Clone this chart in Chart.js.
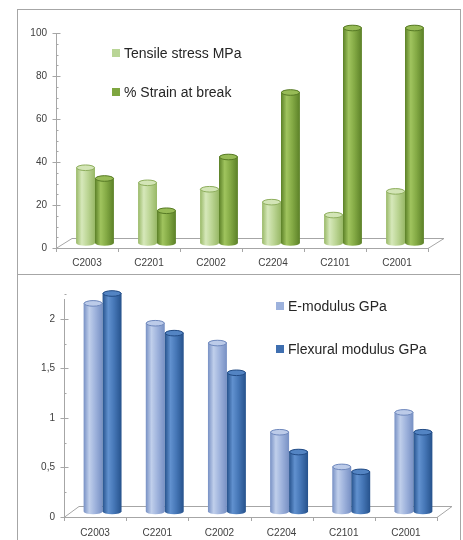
<!DOCTYPE html>
<html lang="en">
<head>
    <meta charset="UTF-8">
    <title>Tensile and modulus comparison</title>
    <script src="https://cdn.jsdelivr.net/npm/chart.js@4.4.0/dist/chart.umd.min.js"></script>
    <style>
        body {
            margin: 0;
            background-color: #ffffff;
            font-family: "Liberation Sans", Arial, sans-serif;
        }
        #frame {
            position: absolute;
            left: 17px;
            top: 9px;
            width: 442px;
            height: 540px;
            border-top: 1px solid #a6a6a6;
            border-left: 1px solid #a6a6a6;
            border-right: 1px solid #a6a6a6;
        }
        #divider {
            position: absolute;
            left: 17px;
            top: 274px;
            width: 444px;
            height: 1px;
            background-color: #a6a6a6;
        }
        canvas {
            position: absolute;
            left: 17px;
        }
        .legend {
            position: absolute;
            font-size: 14px;
            color: #262626;
        }
        .legend div {
            position: absolute;
            white-space: nowrap;
            line-height: 16px;
        }
        .legend span {
            display: inline-block;
            width: 8px;
            height: 8px;
            margin-right: 4px;
            vertical-align: 1px;
        }
    </style>
</head>
<body>
    <div id="frame"></div>
    <div id="divider"></div>
    <canvas id="strengthChart" width="443" height="265" style="top: 9px;"></canvas>
    <canvas id="modulusChart" width="443" height="266" style="top: 274px;"></canvas>
    <div id="strengthLegend" class="legend"></div>
    <div id="modulusLegend" class="legend"></div>

    <script>
        // Data
        const categories = ['C2003', 'C2201', 'C2002', 'C2204', 'C2101', 'C2001'];
        const tensileStress = [35, 28, 25, 19, 13, 24];
        const strainAtBreak = [30, 15, 40, 70, 100, 100];
        const eModulus = [2.1, 1.9, 1.7, 0.8, 0.45, 1.0];
        const flexuralModulus = [2.2, 1.8, 1.4, 0.6, 0.4, 0.8];

        const fontFamily = '"Liberation Sans", Arial, sans-serif';
        const axisColor = '#a6a6a6';

        // Cylinder shading: edge, highlight, body, cap, rim
        const shades = {
            tensile: ['#98b866', '#d6e8ba', '#bdd696', '#d3e5b6', '#8eae5e'],
            strain: ['#5b8027', '#a0c45e', '#84aa45', '#97bb56', '#577a25'],
            emod: ['#7790c4', '#c0cfeb', '#a0b4dd', '#bccbe9', '#6f88bc'],
            flex: ['#26528c', '#6191cf', '#4677b7', '#5384c3', '#234c85']
        };

        // Draws floor, axis ticks and 3D cylinders in place of the flat bars
        const cylinderPlugin = {
            id: 'cylinders',
            beforeDatasetsDraw(chart, args, opts) {
                const ctx = chart.ctx;
                const ca = chart.chartArea;
                const xs = chart.scales.x;
                const ys = chart.scales.y;
                const d = opts.depth;

                ctx.save();
                ctx.strokeStyle = axisColor;
                ctx.lineWidth = 1;

                // floor
                ctx.beginPath();
                ctx.moveTo(ca.left, ca.bottom + 0.5);
                ctx.lineTo(ca.right, ca.bottom + 0.5);
                ctx.lineTo(ca.right + d.x, ca.bottom + d.y + 0.5);
                ctx.lineTo(ca.left + d.x, ca.bottom + d.y + 0.5);
                ctx.closePath();
                ctx.stroke();

                // category ticks on the front edge
                const step = xs.getPixelForTick(1) - xs.getPixelForTick(0);
                for (let i = 0; i <= categories.length; i++) {
                    const px = Math.round(xs.getPixelForTick(0) - step / 2 + i * step) + 0.5;
                    ctx.beginPath();
                    ctx.moveTo(px, ca.bottom);
                    ctx.lineTo(px, ca.bottom + 4);
                    ctx.stroke();
                }

                // value axis with major and minor ticks
                const ax = Math.round(ca.left) + 0.5;
                ctx.beginPath();
                ctx.moveTo(ax, ca.bottom);
                ctx.lineTo(ax, ca.top);
                ctx.stroke();
                const nMinor = Math.round(ys.max / opts.minor + 1e-6);
                for (let i = 0; i <= nMinor; i++) {
                    const v = i * opts.minor;
                    const py = Math.round(ys.getPixelForValue(v)) + 0.5;
                    const major = Math.abs(v / opts.major - Math.round(v / opts.major)) < 1e-6;
                    ctx.beginPath();
                    ctx.moveTo(major ? ax - 4 : ax, py);
                    ctx.lineTo(ax + (major ? 4 : 2), py);
                    ctx.stroke();
                }

                // cylinders, shifted back to mid depth
                const ox = d.x / 2;
                const oy = d.y / 2;
                chart.data.datasets.forEach((ds, di) => {
                    const c = shades[ds.shade];
                    chart.getDatasetMeta(di).data.forEach(el => {
                        const p = el.getProps(['x', 'y', 'base', 'width'], true);
                        const rx = p.width / 2;
                        const ry = 2.8;
                        const cx = p.x + ox;
                        const l = cx - rx;
                        const r = cx + rx;
                        const top = p.y + oy;
                        const bot = p.base + oy;

                        const g = ctx.createLinearGradient(l, 0, r, 0);
                        g.addColorStop(0, c[0]);
                        g.addColorStop(0.3, c[1]);
                        g.addColorStop(0.6, c[2]);
                        g.addColorStop(1, c[0]);

                        ctx.beginPath();
                        ctx.moveTo(l, top);
                        ctx.lineTo(l, bot);
                        ctx.ellipse(cx, bot, rx, ry, 0, Math.PI, 0, true);
                        ctx.lineTo(r, top);
                        ctx.ellipse(cx, top, rx, ry, 0, 0, Math.PI, true);
                        ctx.closePath();
                        ctx.fillStyle = g;
                        ctx.fill();

                        ctx.beginPath();
                        ctx.ellipse(cx, top, rx - 0.5, ry, 0, 0, Math.PI * 2);
                        ctx.fillStyle = c[3];
                        ctx.fill();
                        ctx.strokeStyle = c[4];
                        ctx.stroke();
                    });
                });

                ctx.restore();
                return false;
            }
        };

        const commaLabel = v => String(v).replace('.', ',');

        const buildChart = (id, sets, yMax, major, minor, box, depth) => {
            const ctx = document.getElementById(id).getContext('2d');
            return new Chart(ctx, {
                type: 'bar',
                data: {
                    labels: categories,
                    datasets: sets.map(s => ({
                        label: s.label,
                        data: s.data,
                        shade: s.shade,
                        backgroundColor: s.color,
                        barPercentage: 1,
                        categoryPercentage: 0.61
                    }))
                },
                options: {
                    responsive: false,
                    animation: false,
                    layout: { padding: { left: 0, right: box.right, top: box.top, bottom: 0 } },
                    plugins: {
                        legend: { display: false },
                        tooltip: { enabled: false },
                        cylinders: { depth: depth, major: major, minor: minor }
                    },
                    scales: {
                        x: {
                            grid: { display: false, drawTicks: false },
                            border: { display: false },
                            ticks: {
                                color: '#404040',
                                padding: box.xPad,
                                font: { family: fontFamily, size: 10 }
                            },
                            afterFit: s => { s.height = box.xHeight; }
                        },
                        y: {
                            min: 0,
                            max: yMax,
                            grid: { display: false, drawTicks: false },
                            border: { display: false },
                            ticks: {
                                stepSize: major,
                                includeBounds: false,
                                padding: 9,
                                color: '#404040',
                                font: { family: fontFamily, size: 10 },
                                callback: commaLabel
                            },
                            afterFit: s => { s.width = box.yWidth; }
                        }
                    }
                },
                plugins: [cylinderPlugin]
            });
        };

        const strengthSets = [
            { label: 'Tensile stress MPa', data: tensileStress, shade: 'tensile', color: '#b9d596' },
            { label: '% Strain at break', data: strainAtBreak, shade: 'strain', color: '#7ea63f' }
        ];
        const modulusSets = [
            { label: 'E-modulus GPa', data: eModulus, shade: 'emod', color: '#9db2dd' },
            { label: 'Flexural modulus GPa', data: flexuralModulus, shade: 'flex', color: '#3f6fb0' }
        ];

        const strengthChart = buildChart('strengthChart', strengthSets, 100, 20, 5,
            { right: 32, top: 24, yWidth: 39, xHeight: 26, xPad: 9 }, { x: 16, y: -10 });
        const modulusChart = buildChart('modulusChart', modulusSets, 2.2, 0.5, 0.25,
            { right: 23, top: 25, yWidth: 47, xHeight: 23, xPad: 10 }, { x: 15, y: -11 });

        // HTML legends placed inside the plot area
        const fillLegend = (id, sets, left, rows) => {
            const box = document.getElementById(id);
            sets.forEach((s, i) => {
                const row = document.createElement('div');
                row.style.left = left + 'px';
                row.style.top = (rows[i] - 8) + 'px';
                row.innerHTML = '<span style="background:' + s.color + '"></span>' + s.label;
                box.appendChild(row);
            });
        };
        fillLegend('strengthLegend', strengthSets, 112, [53, 92]);
        fillLegend('modulusLegend', modulusSets, 276, [306, 349]);
    </script>
</body>
</html>
